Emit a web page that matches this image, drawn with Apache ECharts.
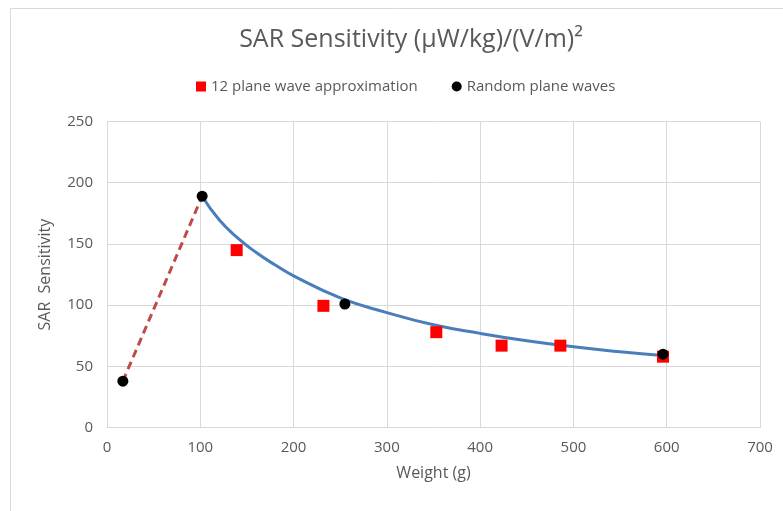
<!DOCTYPE html>
<html><head><meta charset="utf-8">
<script src="https://cdn.jsdelivr.net/npm/echarts@6/dist/echarts.min.js"></script>
<style>html,body{margin:0;padding:0;background:#fff}#c{width:783px;height:511px}</style>
</head><body><div id="c"></div>
<script>
// 12 plane wave approximation (weight g, SAR sensitivity)
const planeWave12 = [[139,145],[232,99.5],[353,78],[423,67],[486,67],[596,58]];
// Random plane waves
const randomWaves = [[17,38],[102,189],[255,101],[596,60]];
// Fitted curve
const fitCurve = [[102,189],[120,170],[140,155],[160,143],[180,133],[200,124],[250,106],[300,94],[350,84],[400,77],[450,71],[500,66],[550,62],[596,59]];
// Dashed extrapolation
const dashLine = [[17,38],[102,189]];
const xTicks = {min:0,max:700,interval:100};
const yTicks = {min:0,max:250,interval:50};

const txt = '#595959';
const font = 'Open Sans';
const chart = echarts.init(document.getElementById('c'));
chart.setOption({
  animation:false,
  textStyle:{fontFamily:font},
  graphic:[{type:'rect',shape:{x:10.5,y:8.5,width:800,height:520},style:{fill:'none',stroke:'#d9d9d9',lineWidth:1},silent:true}],
  title:{text:'SAR Sensitivity (µW/kg)/(V/m)²',left:406,textAlign:'center',top:22,
    textStyle:{fontFamily:font,fontSize:25,fontWeight:'normal',color:txt}},
  legend:{data:['12 plane wave approximation','Random plane waves'],left:191,top:74,itemGap:34,itemWidth:10,itemHeight:10,
    textStyle:{fontFamily:font,fontSize:15,color:txt}},
  grid:{left:107,right:23,top:121.5,bottom:83.3},
  xAxis:{type:'value',min:xTicks.min,max:xTicks.max,interval:xTicks.interval,
    name:'Weight (g)',nameLocation:'middle',nameGap:38,nameTextStyle:{fontFamily:font,fontSize:16,color:txt},
    axisLine:{lineStyle:{color:'#d9d9d9'}},axisTick:{show:false},
    axisLabel:{color:txt,fontSize:15,margin:13},
    splitLine:{lineStyle:{color:'#d9d9d9'}}},
  yAxis:{type:'value',min:yTicks.min,max:yTicks.max,interval:yTicks.interval,
    name:'SAR  Sensitivity',nameLocation:'middle',nameGap:54,nameRotate:90,nameTextStyle:{fontFamily:font,fontSize:16,color:txt},
    axisLine:{show:false},axisTick:{show:false},
    axisLabel:{color:txt,fontSize:15,margin:14},
    splitLine:{lineStyle:{color:'#d9d9d9'}}},
  series:[
    {name:'fit',type:'line',data:fitCurve,smooth:true,showSymbol:false,lineStyle:{color:'#4a7ebb',width:3},z:2},
    {name:'dash',type:'line',data:dashLine,showSymbol:false,lineStyle:{color:'#be4b48',width:3,type:[8,5]},z:2},
    {name:'12 plane wave approximation',type:'scatter',data:planeWave12,symbol:'rect',symbolSize:12,itemStyle:{color:'#ff0000',opacity:1},z:3},
    {name:'Random plane waves',type:'scatter',data:randomWaves,symbol:'circle',symbolSize:11,itemStyle:{color:'#000000',opacity:1},z:4}
  ]
});
</script></body></html>
